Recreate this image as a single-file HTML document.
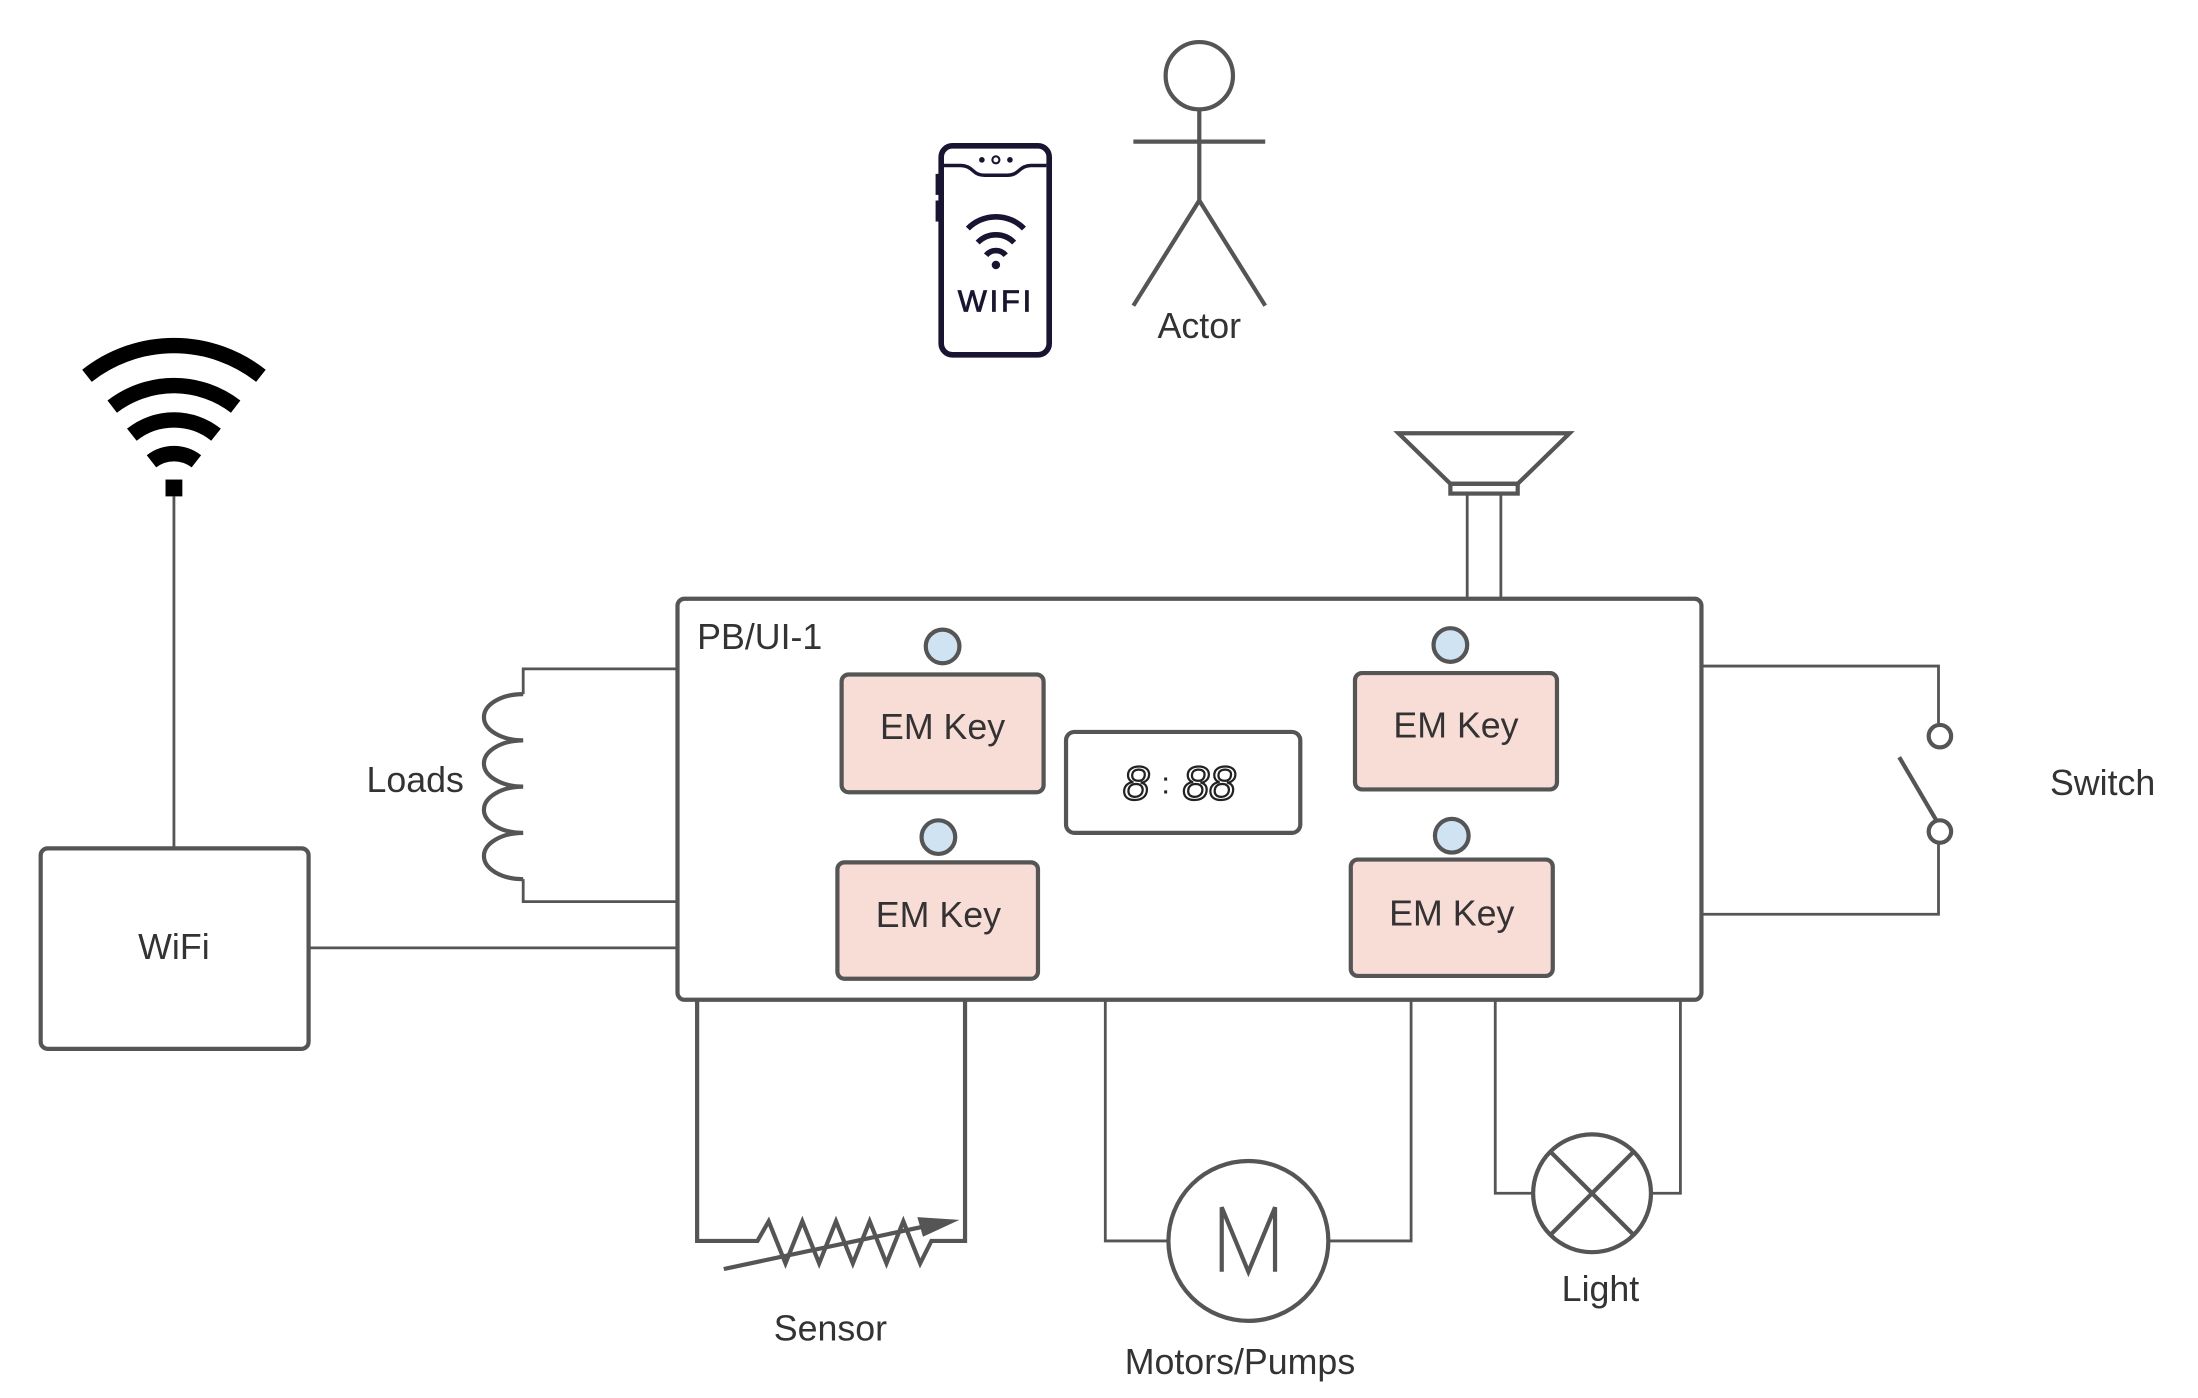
<!DOCTYPE html>
<html><head><meta charset="utf-8"><style>
html,body{margin:0;padding:0;background:#fff;}
svg{display:block;}
text{font-family:"Liberation Sans",sans-serif;fill:#333;}
</style></head><body>
<svg width="2198" height="1398" viewBox="0 0 1567 997" preserveAspectRatio="none" xmlns="http://www.w3.org/2000/svg">
<g fill="none" stroke="#555" stroke-width="2">
<line x1="124" y1="354" x2="124" y2="604"/>
<rect x="29" y="605" width="191" height="143" rx="5" stroke-width="3"/>
<line x1="220" y1="676" x2="483" y2="676"/>
<polyline points="483,477 373,477 373,495"/>
<path d="M373,495 a28,16.5 0 0 0 0,33 a28,16.5 0 0 0 0,33 a28,16.5 0 0 0 0,33 a28,16.5 0 0 0 0,33" stroke-width="3"/>
<polyline points="373,627 373,643 483,643"/>
<rect x="483" y="427" width="730" height="286" rx="5" stroke-width="3"/>
<polygon points="997,309 1119,309 1082,345 1034,345" stroke-width="3"/>
<rect x="1034" y="345" width="48" height="7" stroke-width="3"/>
<line x1="1046" y1="352" x2="1046" y2="427"/>
<line x1="1070" y1="352" x2="1070" y2="427"/>
<polyline points="1213,475 1382,475 1382,516"/>
<circle cx="1383" cy="525" r="8" stroke-width="3"/>
<line x1="1354" y1="540" x2="1381" y2="586" stroke-width="3"/>
<circle cx="1383" cy="593" r="8" stroke-width="3"/>
<polyline points="1382,601 1382,652 1213,652"/>
<polyline points="497,713 497,885 540,885 548,871 560,901 572,871 584,901 596,871 608,901 620,871 632,901 644,871 656,901 664,885 688,885 688,713" stroke-width="3"/>
<line x1="516" y1="905" x2="662" y2="874" stroke-width="3"/>
<polygon points="684,870 654,868 658,882" fill="#555" stroke="none"/>
<polyline points="788,713 788,885 833,885"/>
<circle cx="890" cy="885" r="57" stroke-width="3"/>
<polyline points="947,885 1006,885 1006,713"/>
<polyline points="871,907 871,861 890,907 909,861 909,907" stroke-width="3"/>
<polyline points="1066,713 1066,851 1093,851"/>
<circle cx="1135" cy="851" r="42" stroke-width="3"/>
<line x1="1105" y1="821" x2="1165" y2="881" stroke-width="3"/>
<line x1="1165" y1="821" x2="1105" y2="881" stroke-width="3"/>
<polyline points="1177,851 1198,851 1198,713"/>
<circle cx="855" cy="54" r="24" stroke-width="3"/>
<line x1="855" y1="78" x2="855" y2="143" stroke-width="3"/>
<line x1="808" y1="101" x2="902" y2="101" stroke-width="3"/>
<polyline points="808,218 855,143 902,218" stroke-width="3"/>
</g>
<g fill="none" stroke="#000" stroke-width="11">
<path d="M62,268 A100,100 0 0 1 186,268"/>
<path d="M80,290 A72,72 0 0 1 168,290"/>
<path d="M94,310 A48,48 0 0 1 154,310"/>
<path d="M108,329 A26,26 0 0 1 140,329"/>
</g>
<rect x="118" y="342" width="12" height="12" fill="#000"/>
<g stroke="#555" stroke-width="3" fill="#f8dcd6">
<rect x="600" y="481" width="144" height="84" rx="5"/>
<rect x="597" y="615" width="143" height="83" rx="5"/>
<rect x="966" y="480" width="144" height="83" rx="5"/>
<rect x="963" y="613" width="144" height="83" rx="5"/>
</g>
<g stroke="#555" stroke-width="3" fill="#cfe3f3">
<circle cx="672" cy="461" r="12"/>
<circle cx="669" cy="597" r="12"/>
<circle cx="1034" cy="460" r="12"/>
<circle cx="1035" cy="596" r="12"/>
</g>
<g font-size="25.5">
<text x="124" y="684" text-anchor="middle">WiFi</text>
<text x="296" y="565" text-anchor="middle">Loads</text>
<text x="497" y="463">PB/UI-1</text>
<text x="672" y="527" text-anchor="middle">EM Key</text>
<text x="669" y="661" text-anchor="middle">EM Key</text>
<text x="1038" y="526" text-anchor="middle">EM Key</text>
<text x="1035" y="660" text-anchor="middle">EM Key</text>
<text x="1499" y="567" text-anchor="middle">Switch</text>
<text x="592" y="956" text-anchor="middle">Sensor</text>
<text x="884" y="980" text-anchor="middle">Motors/Pumps</text>
<text x="1141" y="928" text-anchor="middle">Light</text>
<text x="855" y="241" text-anchor="middle">Actor</text>
</g>
<rect x="760" y="522" width="167" height="72" rx="6" fill="#fff" stroke="#555" stroke-width="3"/>
<text x="810" y="570" font-size="34" font-style="italic" text-anchor="middle" style="fill:#fff;stroke:#222;stroke-width:1.6">8</text>
<text x="831" y="566" font-size="22" text-anchor="middle" style="fill:#222">:</text>
<text x="862" y="570" font-size="34" font-style="italic" text-anchor="middle" style="fill:#fff;stroke:#222;stroke-width:1.6">88</text>
<g fill="none" stroke="#1a1433" stroke-width="4">
<rect x="671" y="104" width="77" height="149" rx="8"/>
<path d="M673,118 L685,118 Q690,118 694,122 Q697,125 702,125 L718,125 Q723,125 726,122 Q730,118 735,118 L746,118" stroke-width="2.5"/>
<path d="M690,163 A28,28 0 0 1 730,163" stroke-width="4"/>
<path d="M697,173 A18,18 0 0 1 723,173" stroke-width="4"/>
<path d="M703,182 A9,9 0 0 1 717,182" stroke-width="4"/>
</g>
<rect x="667" y="124" width="4" height="15" fill="#1a1433"/>
<rect x="667" y="143" width="4" height="15" fill="#1a1433"/>
<circle cx="700" cy="114" r="2" fill="#1a1433"/>
<circle cx="710" cy="114" r="2.5" fill="none" stroke="#1a1433" stroke-width="1.5"/>
<circle cx="720" cy="114" r="2" fill="#1a1433"/>
<circle cx="710" cy="189" r="3" fill="#1a1433"/>
<text x="710" y="222" font-size="22" text-anchor="middle" style="fill:#1a1433;letter-spacing:2px;stroke:#1a1433;stroke-width:0.6">WIFI</text>
</svg>
</body></html>
